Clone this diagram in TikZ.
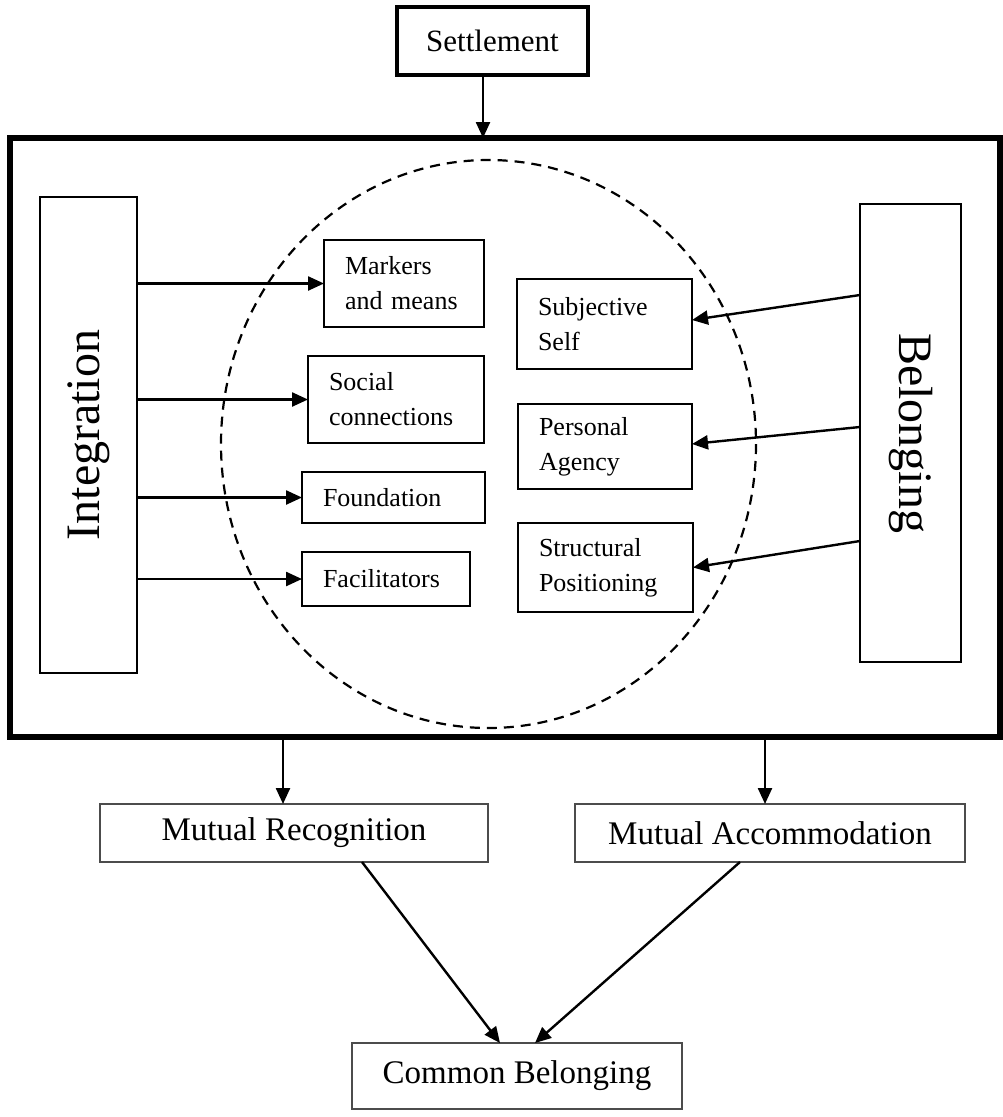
\documentclass[tikz,border=0pt]{standalone}
\usepackage{fontspec}
\setmainfont{Liberation Serif}
\usetikzlibrary{arrows.meta,shapes.geometric}

\tikzset{
  every node/.style={inner sep=0pt, outer sep=0pt},
  innerbox/.style={draw, line width=2.2pt, align=left, inner xsep=21pt,
    font=\fontsize{26}{35}\selectfont},
  pillar/.style={draw, line width=2.2pt,
    font=\fontsize{48}{52}\selectfont},
  outcome/.style={draw=black!70, line width=1.6pt,
    font=\fontsize{33}{36}\selectfont},
  arr/.style={line width=2.4pt, -{Triangle[length=16pt, width=14pt]}},
}

\begin{document}
\begin{tikzpicture}[x=1pt, y=-1pt]
  \useasboundingbox (0,0) rectangle (1003,1117);

  % top node and the enclosing frame
  \node[draw, line width=4.5pt, minimum width=191, minimum height=68,
        font=\fontsize{31}{34}\selectfont] (settle) at (492.5,41) {Settlement};
  \node[draw, line width=6pt, minimum width=990, minimum height=599] (frame) at (505,437.5) {};

  % dashed circle holding the dimensions
  \draw[line width=2.2pt, dash pattern=on 10pt off 7pt] (488.5,444) ellipse [x radius=267.5, y radius=284];

  % the two pillars
  \node[pillar, minimum width=97, minimum height=476] (integ) at (88.5,435)
        {\rotatebox{90}{Integration}};
  \node[pillar, minimum width=101, minimum height=458] (belong) at (910.5,433)
        {\rotatebox{-90}{Belonging}};

  % integration domains
  \node[innerbox, text width=118, minimum height=87] (mm) at (404,283.5) {Markers\\and means};
  \node[innerbox, text width=134, minimum height=87] (sc) at (396,399.5) {Social\\connections};
  \node[innerbox, text width=141, minimum height=51] (fd) at (393.5,497.5) {Foundation};
  \node[innerbox, text width=126, minimum height=54] (fc) at (386,579) {Facilitators};

  % belonging dimensions
  \node[innerbox, text width=133, minimum height=90] (ss) at (604.5,324) {Subjective\\Self};
  \node[innerbox, text width=132, minimum height=85] (pa) at (605,446.5) {Personal\\Agency};
  \node[innerbox, text width=133, minimum height=89] (sp) at (605.5,567.5) {Structural\\Positioning};

  % outcomes
  \node[outcome, minimum width=388, minimum height=58] (mr) at (294,833) {Mutual Recognition};
  \node[outcome, minimum width=390, minimum height=58] (ma) at (770,833) {Mutual Accommodation};
  \node[outcome, minimum width=330, minimum height=66] (cb) at (517,1076) {Common Belonging};

  % connectors
  \draw[arr] ([xshift=-9.5]settle.south) -- ([xshift=-22]frame.north);

  \draw[arr] (integ.east |- mm.west) -- (mm.west);
  \draw[arr] (integ.east |- sc.west) -- (sc.west);
  \draw[arr] (integ.east |- fd.west) -- (fd.west);
  \draw[arr] (integ.east |- fc.west) -- (fc.west);

  \draw[arr] ([yshift=138]belong.west) -- ([yshift=4]ss.east);
  \draw[arr] ([yshift=6]belong.west) -- ([yshift=2.5]pa.east);
  \draw[arr] ([yshift=-108]belong.west) -- (sp.east);

  \draw[arr] ([xshift=-222]frame.south) -- ([xshift=-11]mr.north);
  \draw[arr] ([xshift=260]frame.south) -- ([xshift=-5]ma.north);

  \draw[arr] ([xshift=68]mr.south) -- ([xshift=-17]cb.north);
  \draw[arr] ([xshift=-30]ma.south) -- ([xshift=18]cb.north);
\end{tikzpicture}
\end{document}
